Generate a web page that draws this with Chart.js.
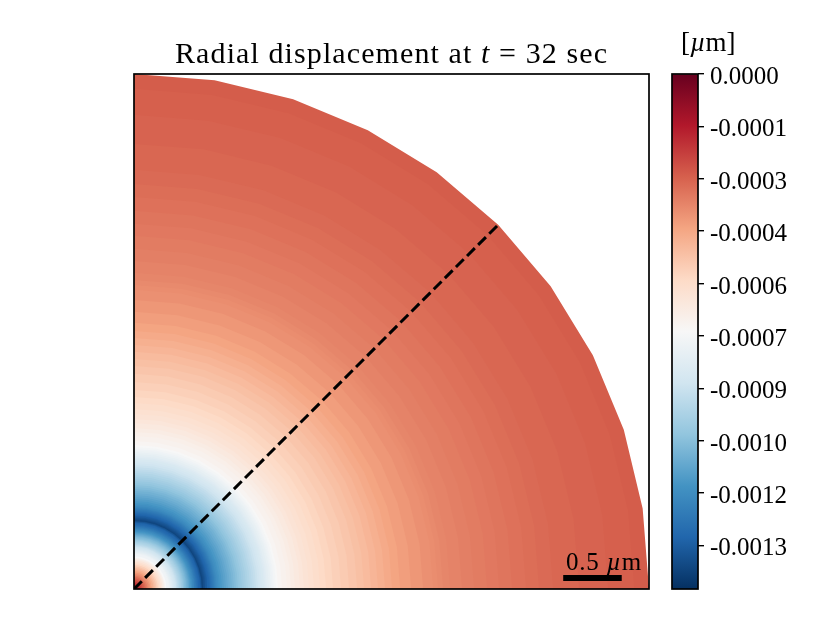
<!DOCTYPE html>
<html>
<head>
<meta charset="utf-8">
<style>
html,body{margin:0;padding:0;background:#fff;width:830px;height:623px;overflow:hidden}
canvas{position:absolute;left:0;top:0}
</style>
<script src="https://cdn.jsdelivr.net/npm/chart.js@4"></script>
</head>
<body>
<canvas id="field" width="830" height="623"></canvas>
<canvas id="cbar" width="830" height="623"></canvas>
<script>
// Mesh spokes of the quarter disc (degrees)
const spokeAngles = [0,9,18,27,36,45,54,63,72,81,90];
// Contour rings, outermost first: radius (nm) and radial displacement (pm, 1 pm = 1e-6 um)
const ringRadiusNm = [4400,4274,4051,3803,3581,3461,3350,3231,3120,3017,2906,2803,2701,2641,2598,2556,2470,2368,2274,2205,2145,2085,2026,1966,1906,1838,1769,1701,1641,1590,1538,1496,1453,1419,1376,1342,1308,1265,1231,
  1214,1197,1184,1171,1154,1137,1124,1111,1094,1077,1060,1043,1026,1009,992,974,957,940,923,906,889,872,855,838,820,803,786,769,752,735,722,709,700,692,684,675,666,658,650,641,632,624,615,607,598,590,
  581,577,573,568,564,555,547,540,534,527,521,515,509,502,496,489,483,476,470,463,457,450,444,435,427,421,415,408,402,393,385,378,372,365,359,350,342,335,329,320,312,305,299,
  278,265,256,244,231,218,205,192,179,167,154,141,128,115,103,90,77,64,51,38,26,13];
const ringValuePm = [-288,-295,-302,-310,-317,-324,-332,-339,-347,-354,-361,-369,-376,-384,-391,-398,-413,-428,-443,-457,-472,-487,-502,-516,-531,-546,-561,-575,-590,-605,-620,-634,-649,-664,-679,-693,-708,-723,-738,
  -752,-767,-782,-797,-812,-826,-841,-856,-870,-885,-900,-915,-930,-944,-959,-974,-989,-1003,-1018,-1033,-1048,-1062,-1077,-1092,-1106,-1121,-1136,-1151,-1166,-1180,-1195,-1210,-1224,-1239,-1254,-1269,-1284,-1298,-1313,-1328,-1342,-1357,-1372,-1387,-1402,-1416,
  -1387,-1372,-1357,-1342,-1328,-1313,-1298,-1284,-1269,-1254,-1239,-1224,-1210,-1195,-1180,-1166,-1151,-1136,-1121,-1106,-1092,-1077,-1062,-1048,-1033,-1018,-1003,-989,-974,-959,-944,-930,-915,-900,-885,-870,-856,-841,-826,-812,-797,-782,-767,
  -738,-708,-679,-649,-620,-590,-561,-531,-502,-472,-443,-413,-384,-354,-324,-295,-266,-236,-207,-184,-162,-133];
// Colour scale
const colorStops = ['#053061','#2166ac','#4393c3','#92c5de','#d1e5f0','#f7f7f7','#fddbc7','#f4a582','#d6604d','#b2182b','#67001f'];
const colorMin = -0.001475, colorMax = 0;
const cbarTickValues = [0,-0.00015,-0.0003,-0.00045,-0.0006,-0.00075,-0.0009,-0.00105,-0.0012,-0.00135];
const cbarTickLabels = ['0.0000','-0.0001','-0.0003','-0.0004','-0.0006','-0.0007','-0.0009','-0.0010','-0.0012','-0.0013'];
// Axis extent (um), section line and scale bar
const axisMaxUm = 4.4;
const sectionX = [0,3.111], sectionY = [0,3.111];
const barX = [3.667,4.167], barY = [0.094,0.094];
const barLabelPos = [3.69,0.165];

const SERIF = '"Liberation Serif"';
Chart.defaults.animation = false;
Chart.defaults.responsive = false;

function hex(h){return [1,3,5].map(i=>parseInt(h.substr(i,2),16));}
function colorFor(v){
  const t = Math.min(1,Math.max(0,(v-colorMin)/(colorMax-colorMin)))*(colorStops.length-1);
  const i = Math.min(colorStops.length-2,Math.floor(t)), f = t-i;
  const a = hex(colorStops[i]), b = hex(colorStops[i+1]);
  return 'rgb('+a.map((c,k)=>Math.round(c+(b[k]-c)*f)).join(',')+')';
}
function runs(ctx,parts,x,y,size,spacing){
  ctx.save();
  ctx.fillStyle='#000';ctx.textBaseline='alphabetic';ctx.textAlign='left';
  ctx.letterSpacing=(spacing||0)+'px';
  let cx=x;
  for(const p of parts){
    ctx.font=(p[1]?'italic ':'')+size+'px '+SERIF;
    ctx.fillText(p[0],cx,y);
    cx+=ctx.measureText(p[0]).width;
  }
  ctx.restore();
}

const ringSets = ringRadiusNm.map((r,i)=>({
  label:'ring '+i,
  data:spokeAngles.map(a=>({x:r/1000*Math.cos(a*Math.PI/180),y:r/1000*Math.sin(a*Math.PI/180)})).concat([{x:0,y:0}]),
  showLine:true,pointRadius:0,borderWidth:0,tension:0,
  fill:'shape',backgroundColor:colorFor(ringValuePm[i]*1e-6),
  order:ringRadiusNm.length-i+5
}));
const sectionSet = {label:'section',data:sectionX.map((x,i)=>({x,y:sectionY[i]})),showLine:true,pointRadius:0,
  borderColor:'#000',borderWidth:3,borderDash:[11,4.7],borderCapStyle:'butt',fill:false,order:1};
const barSet = {label:'scale bar',data:barX.map((x,i)=>({x,y:barY[i]})),showLine:true,pointRadius:0,
  borderColor:'#000',borderWidth:6,borderCapStyle:'butt',fill:false,order:0};

const fieldDecor = {id:'fieldDecor',afterDraw(c){
  const ctx=c.ctx,a=c.chartArea;
  ctx.save();ctx.strokeStyle='#000';ctx.lineWidth=1.7;
  ctx.strokeRect(a.left,a.top,a.right-a.left,a.bottom-a.top);ctx.restore();
  runs(ctx,[['Radial displacement at ',0],['t',1],[' = 32 sec',0]],175,63,30,1.1);
  runs(ctx,[['0.5 ',0],['\u00b5',1],['m',0]],c.scales.x.getPixelForValue(barLabelPos[0]),c.scales.y.getPixelForValue(barLabelPos[1]),25,0.8);
}};
new Chart(document.getElementById('field'),{
  type:'scatter',
  data:{datasets:[...ringSets,sectionSet,barSet]},
  options:{
    layout:{padding:{left:134,right:181,top:74,bottom:34}},
    plugins:{legend:{display:false},tooltip:{enabled:false}},
    scales:{
      x:{type:'linear',min:0,max:axisMaxUm,display:false},
      y:{type:'linear',min:0,max:axisMaxUm,display:false}
    }
  },
  plugins:[fieldDecor]
});

const cbarDecor = {id:'cbarDecor',afterDraw(c){
  const ctx=c.ctx,a=c.chartArea;
  ctx.save();ctx.strokeStyle='#000';ctx.lineWidth=1.7;
  ctx.strokeRect(a.left,a.top,a.right-a.left,a.bottom-a.top);ctx.restore();
  runs(ctx,[['[',0],['\u00b5',1],['m]',0]],681,51,27,0);
}};
new Chart(document.getElementById('cbar'),{
  type:'bar',
  data:{labels:['um'],datasets:[{label:'colour scale',data:[[colorMin,colorMax]],barPercentage:1,categoryPercentage:1,
    backgroundColor(ctx){
      const c=ctx.chart,a=c.chartArea;
      if(!a) return colorStops[5];
      const g=c.ctx.createLinearGradient(0,a.bottom,0,a.top);
      colorStops.forEach((s,i)=>g.addColorStop(i/(colorStops.length-1),s));
      return g;
    }}]},
  options:{
    layout:{padding:{left:672,right:0,top:74,bottom:34}},
    plugins:{legend:{display:false},tooltip:{enabled:false}},
    scales:{
      x:{display:false},
      y:{position:'right',min:colorMin,max:colorMax,
        afterBuildTicks(ax){ax.ticks=cbarTickValues.map(v=>({value:v}));},
        afterFit(ax){ax.width=132;},
        grid:{drawOnChartArea:false,color:'#000',lineWidth:1.4,tickLength:6,drawTicks:true},
        border:{display:false},
        ticks:{autoSkip:false,color:'#000',padding:6,maxRotation:0,labelOffset:3.5,font:{family:SERIF,size:25},
          callback(v,i){return cbarTickLabels[i];}}
      }
    }
  },
  plugins:[cbarDecor]
});
</script>
</body>
</html>
